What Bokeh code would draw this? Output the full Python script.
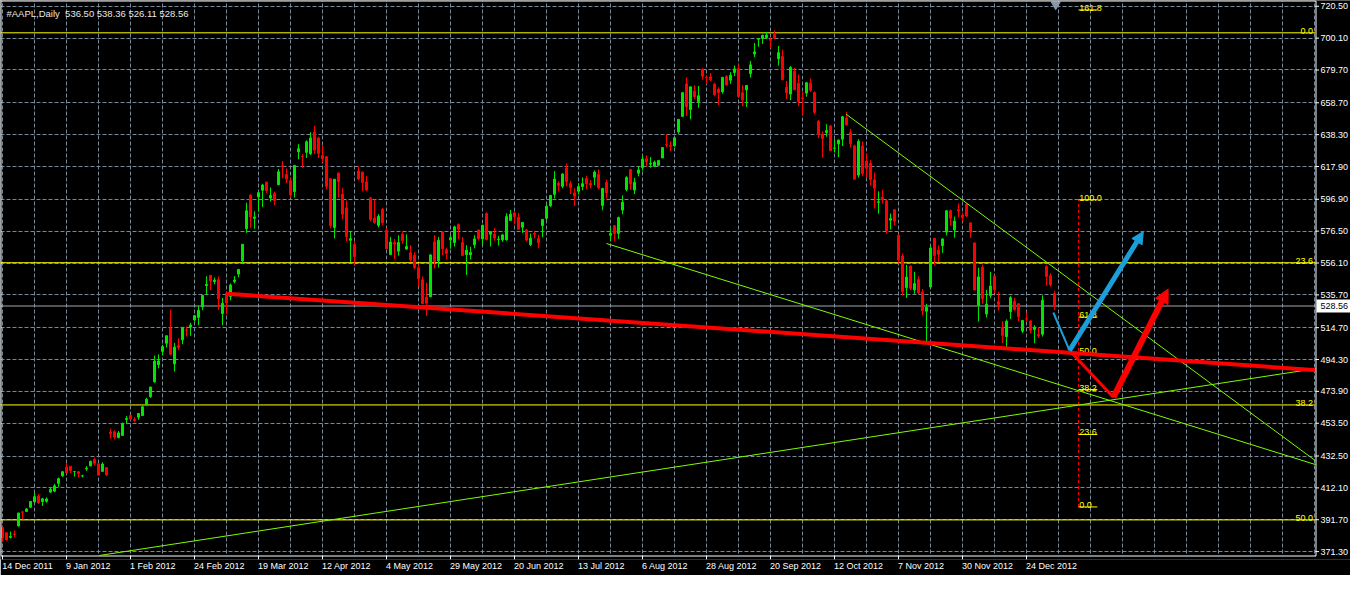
from bokeh.plotting import figure
from bokeh.models import (Range1d, FixedTicker, ColumnDataSource, Label, Grid,
                          Arrow, NormalHead)
from bokeh.embed import file_html
from bokeh.resources import INLINE
from bokeh.core.properties import value

FONT = "Liberation Sans"

symbol_title = "#AAPL,Daily\u00a0\u00a0536.50 538.36 526.11 528.56"

date_labels = ["14 Dec 2011", "9 Jan 2012", "1 Feb 2012", "24 Feb 2012", "19 Mar 2012",
               "12 Apr 2012", "4 May 2012", "29 May 2012", "20 Jun 2012", "13 Jul 2012",
               "6 Aug 2012", "28 Aug 2012", "20 Sep 2012", "12 Oct 2012", "7 Nov 2012",
               "30 Nov 2012", "24 Dec 2012"]
bars_per_label = 16
grid_every = 8

price_labels = ["720.50", "700.10", "679.70", "658.70", "638.30", "617.90", "596.90",
                "576.50", "556.10", "535.70", "514.70", "494.30", "473.90", "453.50",
                "432.50", "412.10", "391.70", "371.30"]

opens = [
    386.7, 383.3, 380.4, 382.5, 387.8, 396.7, 397.0, 399.7, 403.1, 406.9, 403.4, 403.5,
    409.4, 410.0, 415.0, 419.8, 425.5, 425.9, 422.6, 422.4, 419.7, 424.2, 426.2, 430.2, 427.5, 422.7, 425.1, 447.8, 448.0, 444.3, 445.7, 455.9,
    458.5, 455.9, 457.3, 458.4, 465.3, 470.5, 480.0, 491.0, 499.5, 504.7, 514.3, 491.5, 503.1, 506.9, 513.1, 515.1, 519.7, 521.3, 528.0, 541.6,
    548.2, 544.2, 545.4, 523.7, 536.8, 534.7, 544.2, 549.0, 557.5, 578.1, 599.6, 584.7, 598.4, 602.7, 608.0, 597.8, 600.5, 606.2, 618.4, 612.8, 608.8,
    601.8, 627.3, 624.4, 627.0, 626.1, 639.9, 636.2, 625.0, 624.1, 610.1, 578.9, 613.7, 600.2, 591.4, 570.6, 568.0, 615.0, 614.3, 608.0, 597.8,
    584.9, 580.2, 590.5, 577.1, 561.5, 569.1, 563.7, 574.6, 565.0, 562.6, 561.0, 553.0, 545.3, 534.0, 534.5, 569.6, 557.5, 575.9, 564.6, 570.9, 569.2, 580.7,
    569.2, 561.5, 561.3, 567.8, 577.3, 571.6, 587.7, 574.5, 574.5, 571.2, 571.0, 571.0, 583.4, 588.2, 585.4, 579.0, 577.3, 568.0, 575.0, 571.7, 580.0,
    584.7, 592.8, 600.1, 607.1, 605.3, 617.0, 606.9, 601.0, 602.0, 605.1, 610.2, 607.0, 611.0, 612.7, 593.0, 607.7, 573.8, 580.0, 575.0, 590.0, 603.2,
    615.9, 602.8, 613.6, 617.3, 622.8, 619.4, 617.9, 618.7, 623.4, 631.9, 631.3, 631.2, 640.0, 650.0, 670.8, 654.4, 666.1, 659.5, 680.0, 675.0, 675.3, 670.6, 667.3,
    665.8, 675.6, 673.2, 678.1, 680.5, 665.1, 666.9, 677.4, 690.0, 699.4, 699.9, 700.3, 699.2, 702.4, 686.9, 688.3, 668.7, 664.3, 678.8,
    671.2, 661.8, 664.9, 671.3, 665.2, 646.9, 638.7, 639.7, 643.9, 629.6, 632.4, 635.4, 648.9, 639.6, 631.1, 612.4, 631.0, 621.4, 620.0, 609.4, 594.9,
    598.2, 595.9, 583.5, 590.2, 573.8, 560.6, 540.4, 554.2, 538.9, 545.5, 537.5, 525.2, 540.7, 571.9, 564.3, 567.2, 575.9, 589.6, 577.3, 590.2, 586.8,
    593.7, 581.8, 568.9, 528.9, 553.4, 523.5, 535.3, 547.8, 531.2, 514.8, 508.9, 525.0, 531.5, 530.0, 512.5, 520.4, 519.0, 513.5, 510.3, 510.5,
    553.8, 547.9, 536.50,
]
highs = [
    387.4, 383.7, 384.1, 384.8, 396.1, 397.3, 399.1, 403.6, 409.1, 408.2, 405.7, 406.0,
    412.5, 414.7, 418.6, 422.8, 427.8, 426.0, 422.9, 422.9, 420.5, 426.0, 429.5, 431.4, 427.5, 428.5, 425.1, 450.0, 449.0, 448.5, 453.9, 458.2,
    459.0, 457.2, 460.0, 465.0, 469.8, 476.8, 496.8, 497.6, 503.8, 509.6, 526.3, 504.9, 507.8, 514.9, 515.5, 517.8, 522.9, 528.5, 535.4, 547.6,
    548.2, 546.8, 547.5, 533.7, 537.8, 543.0, 547.7, 552.0, 568.2, 594.7, 600.0, 589.2, 601.8, 606.8, 608.0, 604.5, 601.8, 616.3, 621.5, 616.6, 610.6,
    618.8, 632.2, 625.9, 634.7, 639.8, 644.0, 636.9, 631.3, 624.7, 610.3, 610.0, 614.0, 604.0, 596.1, 576.7, 570.0, 618.0, 614.7, 611.9, 598.4,
    596.8, 587.4, 591.4, 578.4, 572.8, 571.5, 573.9, 575.9, 574.5, 567.6, 563.0, 555.0, 547.5, 543.4, 561.5, 573.9, 572.8, 576.5, 565.9, 574.0, 580.0, 581.5,
    572.7, 567.5, 566.5, 573.9, 577.3, 580.6, 588.5, 576.6, 578.5, 573.5, 574.6, 587.9, 590.0, 589.3, 588.2, 582.2, 578.0, 574.9, 576.7, 574.2, 584.0,
    593.5, 599.4, 614.9, 608.4, 613.5, 619.9, 608.8, 604.0, 607.2, 610.9, 612.0, 609.1, 615.4, 616.0, 604.3, 609.6, 579.0, 580.0, 585.8, 599.4, 611.7,
    616.4, 610.7, 618.0, 624.9, 625.0, 623.9, 621.7, 621.8, 630.0, 638.6, 634.0, 636.8, 648.2, 665.2, 674.9, 669.0, 669.9, 669.5, 680.9, 676.1, 677.7, 671.6, 668.6,
    675.1, 676.4, 678.3, 682.5, 683.3, 670.1, 669.9, 685.5, 697.0, 699.8, 702.3, 704.0, 700.1, 705.1, 695.1, 692.8, 672.7, 682.2, 681.1,
    676.8, 666.0, 671.9, 674.3, 666.0, 647.6, 640.5, 645.0, 644.5, 635.4, 635.1, 650.3, 652.8, 642.1, 631.8, 635.4, 633.9, 626.6, 622.0, 614.0, 602.0,
    603.0, 597.0, 587.8, 590.7, 574.5, 562.2, 554.9, 554.5, 550.5, 547.5, 539.5, 530.0, 567.5, 572.0, 567.4, 572.0, 590.0, 590.4, 585.8, 594.3, 588.4,
    594.6, 581.8, 569.3, 553.0, 555.0, 538.8, 550.5, 547.8, 537.6, 518.8, 520.0, 534.9, 533.7, 530.2, 519.7, 524.3, 519.5, 516.3, 514.5, 535.4,
    555.0, 549.7, 538.36,
]
lows = [
    377.7, 378.3, 379.7, 380.5, 387.3, 392.0, 396.7, 399.5, 403.0, 401.8, 400.5, 402.6,
    409.0, 409.3, 412.7, 419.2, 421.4, 421.5, 419.3, 418.8, 418.7, 423.0, 426.0, 426.5, 419.8, 422.3, 419.6, 443.6, 443.1, 443.8, 445.4, 453.1,
    455.6, 454.0, 455.6, 458.2, 464.6, 469.7, 479.5, 488.6, 497.1, 502.0, 496.9, 486.6, 500.3, 504.1, 509.1, 509.5, 518.6, 516.3, 525.9, 535.7,
    538.8, 542.5, 526.0, 516.2, 523.3, 532.1, 543.1, 547.0, 555.8, 575.4, 578.6, 578.0, 589.1, 592.0, 601.0, 595.5, 593.0, 606.1, 610.3, 607.2, 597.9,
    598.0, 622.5, 617.0, 623.4, 625.3, 626.0, 623.3, 620.5, 603.5, 578.3, 571.9, 598.0, 584.0, 570.0, 556.6, 555.0, 609.0, 602.1, 602.3, 582.8,
    581.2, 578.9, 580.3, 565.2, 561.2, 558.7, 560.8, 568.4, 564.4, 556.9, 552.2, 541.0, 530.1, 522.2, 534.1, 552.6, 553.2, 561.2, 558.5, 565.3, 566.6, 571.5,
    560.5, 548.5, 558.3, 565.5, 570.5, 568.0, 570.6, 566.7, 570.4, 567.3, 569.6, 570.4, 583.1, 580.8, 577.4, 575.4, 570.0, 567.0, 571.9, 565.6, 572.6,
    583.6, 592.0, 597.4, 601.9, 604.0, 605.3, 600.3, 592.7, 600.0, 602.7, 603.5, 603.9, 606.0, 603.5, 589.9, 597.3, 570.4, 570.0, 571.6, 587.3, 602.0,
    603.0, 600.3, 611.6, 615.3, 618.0, 617.1, 617.8, 618.7, 623.3, 630.2, 627.8, 630.5, 638.8, 649.9, 650.3, 648.1, 661.2, 655.6, 673.5, 670.7, 672.6, 662.9, 657.3,
    664.5, 669.6, 670.8, 675.8, 662.1, 656.5, 656.0, 674.8, 687.9, 694.6, 696.4, 699.6, 693.6, 699.4, 682.5, 673.0, 661.2, 660.4, 666.8,
    656.5, 650.7, 662.6, 665.6, 651.3, 636.1, 623.6, 637.0, 627.8, 626.9, 623.9, 631.0, 644.0, 630.0, 609.6, 610.8, 611.7, 610.6, 605.6, 591.0, 587.7,
    594.2, 574.8, 577.6, 580.1, 555.8, 535.3, 533.7, 538.7, 536.4, 536.2, 522.6, 505.8, 539.9, 554.6, 556.6, 562.6, 573.7, 580.1, 572.3, 585.3, 582.7,
    585.5, 572.1, 538.8, 518.6, 530.0, 521.2, 533.5, 536.8, 525.8, 505.0, 501.2, 520.3, 525.5, 518.9, 511.3, 518.7, 511.1, 504.7, 508.1, 509.0,
    541.6, 541.0, 526.11,
]
closes = [
    380.2, 378.9, 381.0, 382.2, 396.0, 396.5, 398.6, 403.4, 406.5, 402.6, 405.1, 405.0,
    411.2, 413.4, 418.0, 422.4, 421.7, 423.2, 422.6, 421.4, 419.8, 424.7, 429.1, 427.8, 420.3, 427.4, 420.4, 446.7, 444.6, 447.3, 453.0, 456.5,
    456.2, 455.1, 459.7, 464.0, 468.8, 476.7, 493.2, 493.4, 502.6, 509.5, 497.7, 502.2, 502.1, 514.9, 513.0, 516.4, 522.4, 525.8, 535.4, 542.4,
    544.5, 545.2, 533.2, 530.3, 530.7, 542.0, 545.2, 552.0, 568.1, 589.6, 585.6, 585.6, 601.1, 606.0, 602.5, 599.3, 596.1, 614.5, 617.6, 609.9, 599.6,
    618.6, 629.3, 624.3, 633.7, 636.2, 628.4, 626.2, 622.8, 605.2, 580.1, 609.7, 608.3, 587.4, 573.0, 571.7, 560.3, 610.0, 607.7, 603.0, 584.0,
    582.1, 586.0, 581.8, 565.3, 569.5, 568.2, 569.2, 570.5, 566.7, 558.2, 553.2, 546.1, 530.1, 530.4, 561.3, 557.0, 570.6, 565.3, 562.3, 572.3, 579.2, 577.7,
    561.0, 564.3, 562.8, 571.5, 571.7, 580.3, 571.2, 576.2, 572.2, 571.5, 574.1, 585.8, 587.4, 585.7, 577.7, 582.1, 570.8, 572.0, 574.5, 569.1, 584.0,
    592.5, 599.4, 609.9, 605.9, 613.1, 608.2, 604.4, 598.9, 605.0, 606.9, 606.9, 606.0, 614.3, 604.3, 603.8, 600.9, 575.0, 574.9, 585.2, 595.0, 610.8,
    606.8, 607.8, 615.7, 622.6, 620.9, 619.9, 620.7, 621.7, 630.0, 631.7, 630.8, 636.3, 648.1, 665.2, 656.1, 668.9, 662.6, 663.2, 675.7, 674.8, 673.5, 663.9, 665.2,
    675.0, 670.2, 676.3, 680.4, 662.7, 660.6, 669.8, 683.0, 691.3, 699.8, 701.9, 702.1, 698.7, 700.1, 690.8, 673.5, 665.2, 681.3, 667.1,
    659.4, 661.3, 671.5, 666.8, 652.6, 638.2, 635.9, 640.9, 628.1, 629.7, 634.8, 649.8, 644.6, 632.6, 609.8, 634.0, 613.4, 616.8, 609.5, 604.0, 595.3,
    596.5, 576.8, 584.6, 582.9, 558.0, 537.8, 547.1, 540.0, 542.9, 536.9, 525.6, 527.7, 565.7, 560.9, 561.7, 571.5, 589.5, 584.8, 582.9, 589.4, 585.3,
    586.2, 575.9, 538.8, 547.2, 533.3, 529.8, 541.4, 539.0, 529.7, 509.8, 518.8, 533.9, 526.3, 521.7, 519.3, 520.2, 513.0, 515.1, 509.6, 532.2,
    547.5, 542.1, 528.56,
]

bid_price = 528.56

# Fibonacci retracement drawn across the chart (levels labelled at right edge)
fib_a_levels = [0.0, 23.6, 38.2, 50.0]
fib_a_zero = 703.5
fib_a_hundred = 79.7

# Fibonacci retracement near the last bars
fib_b_levels = [0.0, 23.6, 38.2, 50.0, 61.8, 100.0, 161.8]
fib_b_zero = 399.9
fib_b_hundred = 596.6
fib_b_bar = 269.0
fib_b_bar_end = 273.7

# thin green trend lines (bar index / price)
green_x0 = [151.0, 210.9, 24.2]
green_y0 = [568.6, 651.4, 368.8]
green_x1 = [329.4, 329.4, 329.4]
green_y1 = [426.1, 427.3, 488.9]

# thick red neckline
neck_x = [56.2, 329.4]
neck_y = [536.4, 487.3]

# projected paths
blue_x = [262.7, 266.75, 285.2]
blue_y = [524.4, 500.1, 576.3]
red_x = [266.75, 277.7, 291.4]
red_y = [500.1, 470.1, 539.5]

BULL = "#00E600"
BEAR = "#FF0000"
GRID = "#778899"
YEL = "#FFFF00"
LGREEN = "#7CFC00"
BLUE = "#1B9FDB"
LBL = "9px"

n = min(len(opens), len(highs), len(lows), len(closes))
idx = list(range(n))
o, h, l, c = opens[:n], highs[:n], lows[:n], closes[:n]
src = ColumnDataSource(dict(
    i=idx,
    top=[max(o[k], c[k]) for k in idx],
    bottom=[min(o[k], c[k]) for k in idx],
    hi=[max(h[k], o[k], c[k]) for k in idx],
    lo=[min(l[k], o[k], c[k]) for k in idx],
    color=[BULL if c[k] >= o[k] else BEAR for k in idx],
))

# ---- geometry (one frame holding chart area + price-scale strip)
W, H = 1350, 575
B_BOT = 16                 # room for the date labels
FRAME_H = H - B_BOT
PPB = 4.0                  # px per bar
CHART_W = 1315             # chart area width in px, the rest is the price scale
MARGIN_B = 4               # px between chart bottom line and frame bottom (tick marks)

x_lo = -0.5
x_hi = x_lo + W / PPB
x_edge = x_lo + CHART_W / PPB

y_top = 724.2
y_chart_bottom = 368.8
PPU = (FRAME_H - MARGIN_B) / (y_top - y_chart_bottom)
y_lo = y_chart_bottom - MARGIN_B / PPU

p = figure(width=W, height=H,
           x_range=Range1d(x_lo, x_hi), y_range=Range1d(y_lo, y_top),
           x_axis_location="below", y_axis_location=None,
           output_backend="svg", toolbar_location=None,
           background_fill_color="black", border_fill_color="black",
           min_border_left=0, min_border_right=0, min_border_top=0, min_border_bottom=B_BOT)
p.outline_line_color = None
for g in p.grid:
    g.visible = False

# character widths (per 1000 em) used to left-align date labels at their ticks
CW = {" ": 278, "D": 722, "F": 611, "J": 500, "M": 833, "N": 722, "O": 778, "S": 667, "A": 667,
      "a": 556, "b": 556, "c": 500, "e": 556, "g": 556, "l": 222, "n": 556, "o": 556, "p": 556,
      "r": 333, "t": 278, "u": 556, "v": 500, "y": 500}


def text_px(s, size=9.0):
    return sum(CW.get(ch, 556) for ch in s) * size / 1000.0


label_bars = [k * bars_per_label for k in range(len(date_labels))]
label_centers = [round(b + (text_px(s) / 2.0 - 0.5) / PPB, 3) for b, s in zip(label_bars, date_labels)]

xa = p.xaxis[0]
xa.ticker = FixedTicker(ticks=label_centers)
xa.major_label_overrides = {t: s for t, s in zip(label_centers, date_labels)}
xa.axis_line_color = None
xa.major_tick_line_color = None
xa.major_tick_out = 0
xa.major_tick_in = 0
xa.minor_tick_line_color = None
xa.major_label_standoff = 1
xa.major_label_text_color = "white"
xa.major_label_text_font = FONT
xa.major_label_text_font_size = LBL

price_ticks = [float(s) for s in price_labels]
p.add_layout(Grid(dimension=0, ticker=FixedTicker(ticks=list(range(0, int(x_edge) + 1, grid_every))),
                  grid_line_color=GRID, grid_line_dash="4 2", grid_line_width=1))
p.add_layout(Grid(dimension=1, ticker=FixedTicker(ticks=price_ticks),
                  grid_line_color=GRID, grid_line_dash="4 2", grid_line_width=1))

# bid line
p.line([x_lo, x_edge], [bid_price, bid_price], line_color="#A0A8B0", line_width=1)

# fibonacci A (horizontal yellow levels)
fa_prices = [fib_a_zero + (fib_a_hundred - fib_a_zero) * lv / 100.0 for lv in fib_a_levels]
p.segment(x0=[x_lo] * len(fa_prices), x1=[x_edge] * len(fa_prices), y0=fa_prices, y1=fa_prices,
          line_color=YEL, line_width=1)
p.text(x=[x_edge - 0.6] * len(fa_prices), y=fa_prices, text=["%.1f" % lv for lv in fib_a_levels],
       text_align="right", text_baseline="alphabetic", y_offset=-2, text_color=YEL,
       text_font=value(FONT), text_font_size=value(LBL))

# candles
p.segment(x0="i", y0="lo", x1="i", y1="hi", line_color="color", line_width=1, source=src)
p.vbar(x="i", width=0.5, top="top", bottom="bottom", fill_color="color",
       line_color="color", line_width=1, source=src)

# fibonacci B
fb_prices = [fib_b_zero + (fib_b_hundred - fib_b_zero) * lv / 100.0 for lv in fib_b_levels]
p.line([fib_b_bar, fib_b_bar], [fib_b_zero, fib_b_hundred], line_color="#FF0000",
       line_width=1, line_dash="3 3")
p.segment(x0=[fib_b_bar] * len(fb_prices), x1=[fib_b_bar_end] * len(fb_prices),
          y0=fb_prices, y1=fb_prices, line_color=YEL, line_width=1)
p.text(x=[fib_b_bar + 0.2] * len(fb_prices), y=fb_prices, text=["%.1f" % lv for lv in fib_b_levels],
       text_align="left", text_baseline="alphabetic", y_offset=-2, text_color=YEL,
       text_font=value(FONT), text_font_size=value(LBL))

# green trend lines
p.segment(x0=green_x0, y0=green_y0, x1=green_x1, y1=green_y1, line_color=LGREEN, line_width=1)

# red neckline
p.line(neck_x, neck_y, line_color="#FF0000", line_width=4)

# blue path with arrow
p.line(blue_x[:2], blue_y[:2], line_color=BLUE, line_width=2)
p.add_layout(Arrow(end=NormalHead(size=12, fill_color=BLUE, line_color=BLUE),
                   x_start=blue_x[1], y_start=blue_y[1], x_end=blue_x[2], y_end=blue_y[2],
                   line_color=BLUE, line_width=5))

# red path with arrow
p.line(red_x[:2], red_y[:2], line_color="#FF0000", line_width=3)
p.add_layout(Arrow(end=NormalHead(size=14, fill_color="#FF0000", line_color="#FF0000"),
                   x_start=red_x[1], y_start=red_y[1], x_end=red_x[2], y_end=red_y[2],
                   line_color="#FF0000", line_width=6))

# chart shift marker at the last bar
p.scatter(x=[n - 1 + 0.3], y=[y_top - 2.6], marker="inverted_triangle", size=9,
          fill_color="#8898A8", line_color="#8898A8")

# ---- masks: price-scale strip and the tick-mark margin below the chart
p.quad(left=[x_edge], right=[x_hi], bottom=[y_lo], top=[y_top], fill_color="black", line_color=None)
p.quad(left=[x_lo], right=[x_edge], bottom=[y_lo], top=[y_chart_bottom],
       fill_color="black", line_color=None)

# chart frame lines
half_px_x = 0.5 / PPB
half_px_y = 0.5 / PPU
fx0, fx1 = x_lo + half_px_x, x_edge + half_px_x
fy0, fy1 = y_chart_bottom - half_px_y, y_top - half_px_y
p.line([fx0, fx1, fx1], [fy0, fy0, fy1], line_color="white", line_width=1)
p.line([fx0, fx0, fx1], [fy0, fy1, fy1], line_color="white", line_width=1)

# date tick marks below the chart
p.segment(x0=label_bars, x1=label_bars, y0=[y_chart_bottom] * len(label_bars),
          y1=[y_chart_bottom - MARGIN_B / PPU] * len(label_bars), line_color="white", line_width=1)

# price scale: tick marks, labels, current-price box
p.segment(x0=[x_edge] * len(price_ticks), x1=[x_edge + 3.5 / PPB] * len(price_ticks),
          y0=price_ticks, y1=price_ticks, line_color="white", line_width=1)
p.text(x=[x_edge + 5.0 / PPB] * len(price_ticks), y=price_ticks, text=price_labels,
       text_align="left", text_baseline="middle", text_color="white",
       text_font=value(FONT), text_font_size=value(LBL))
p.rect(x=[x_edge + 18.0 / PPB], y=[bid_price], width=34, height=13,
       width_units="screen", height_units="screen", fill_color="white", line_color=None)
p.text(x=[x_edge + 5.0 / PPB], y=[bid_price], text=["%.2f" % bid_price], text_align="left",
       text_baseline="middle", text_color="black", text_font=value(FONT),
       text_font_size=value(LBL))

# title
p.add_layout(Label(x=6, y=y_top - 4.5, x_units="screen", y_units="data", text=symbol_title,
                   text_color="#E8E8E8", text_font=FONT, text_font_size="9.5px",
                   text_baseline="top"))

open("out.html", "w").write(file_html(p, INLINE))
